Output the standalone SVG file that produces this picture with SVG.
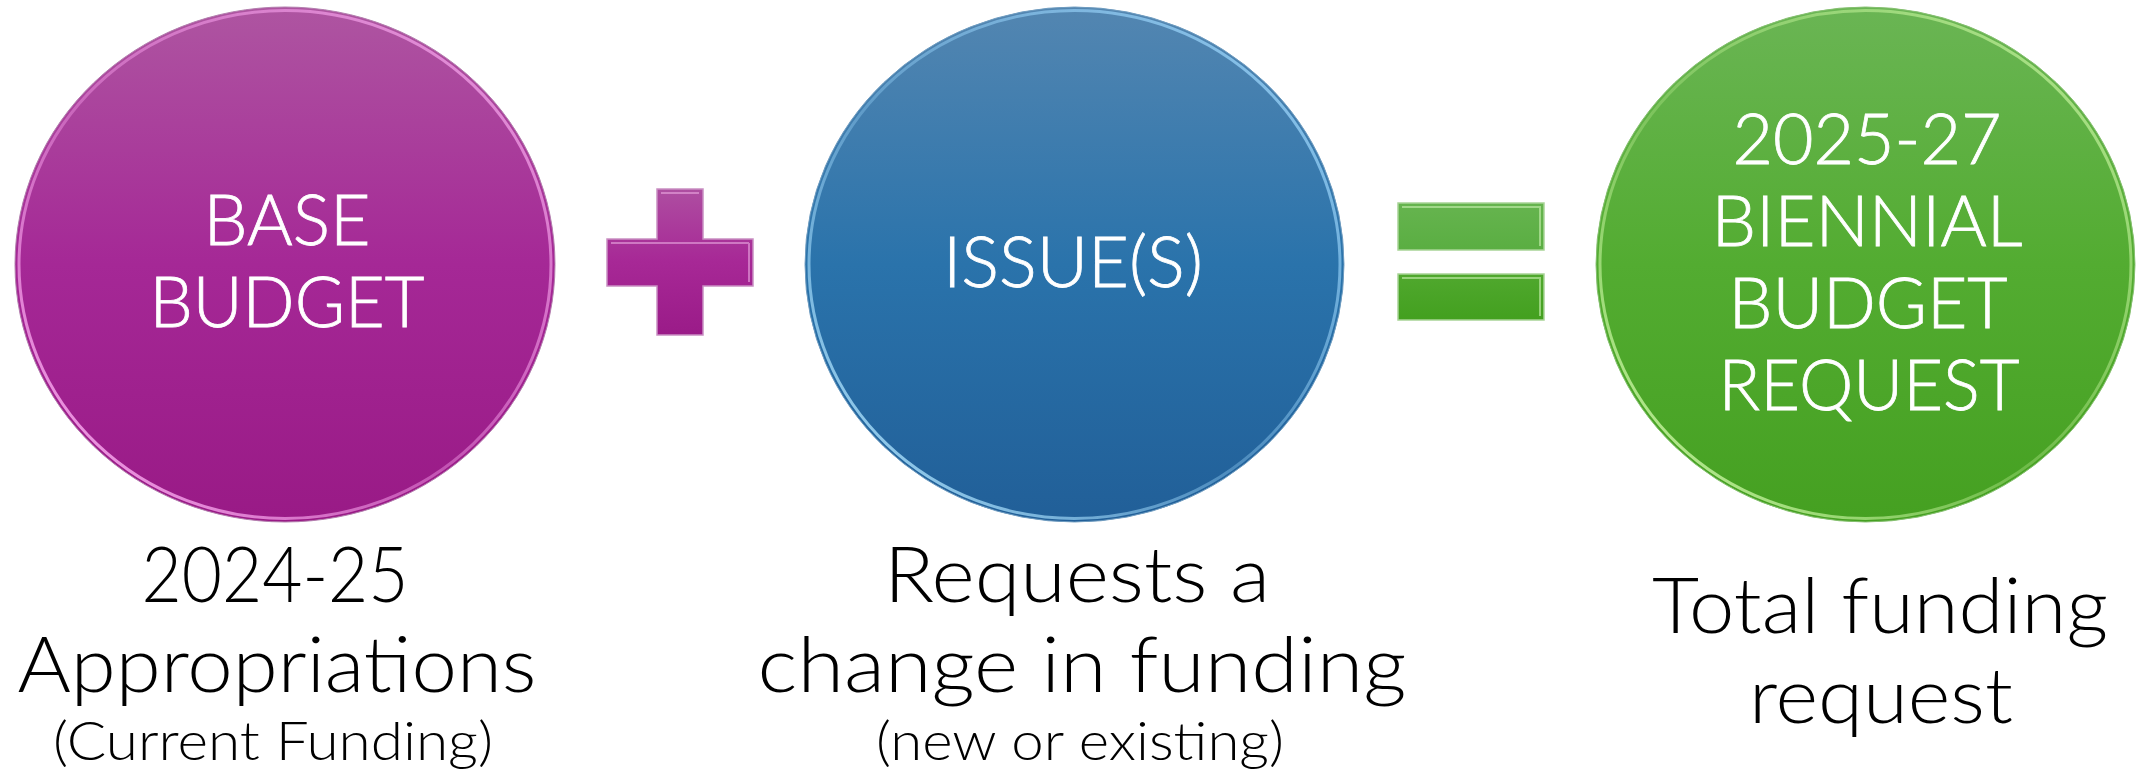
<svg xmlns="http://www.w3.org/2000/svg" width="2148" height="771" viewBox="0 0 2148 771">
  <style>
    .lbl { font-family: "Lato", "Open Sans", "Liberation Sans", sans-serif; font-weight: 300; fill: #ffffff; font-size: 71px; text-anchor: middle; stroke: #ffffff; stroke-width: 0.8px; }
    .cap { font-family: "Lato", "Open Sans", "Liberation Sans", sans-serif; font-weight: 300; fill: #000000; text-anchor: middle; }
    .big { font-size: 77px; }
    .small { font-size: 53px; }
  </style>
  <defs>
    <linearGradient id="gMag" x1="0" y1="0" x2="0" y2="1">
      <stop offset="0" stop-color="#AE55A1"/>
      <stop offset="0.5" stop-color="#A52896"/>
      <stop offset="1" stop-color="#991A86"/>
    </linearGradient>
    <linearGradient id="gBlue" x1="0" y1="0" x2="0" y2="1">
      <stop offset="0" stop-color="#5386B1"/>
      <stop offset="0.5" stop-color="#2A73AB"/>
      <stop offset="1" stop-color="#215F98"/>
    </linearGradient>
    <linearGradient id="gGreen" x1="0" y1="0" x2="0" y2="1">
      <stop offset="0" stop-color="#6AB554"/>
      <stop offset="0.5" stop-color="#53AC31"/>
      <stop offset="1" stop-color="#45A021"/>
    </linearGradient>
    <linearGradient id="rimMag" x1="0" y1="1" x2="1" y2="0">
      <stop offset="0" stop-color="#FFB4F5" stop-opacity="1"/>
      <stop offset="0.45" stop-color="#E98BDC" stop-opacity="0.5"/>
      <stop offset="1" stop-color="#F0A0E6" stop-opacity="0.9"/>
    </linearGradient>
    <linearGradient id="rimBlue" x1="0" y1="1" x2="1" y2="0">
      <stop offset="0" stop-color="#B4E8FF" stop-opacity="1"/>
      <stop offset="0.45" stop-color="#8CC8F0" stop-opacity="0.4"/>
      <stop offset="1" stop-color="#9AD4FA" stop-opacity="0.9"/>
    </linearGradient>
    <linearGradient id="rimGreen" x1="0" y1="1" x2="1" y2="0">
      <stop offset="0" stop-color="#D6FFB0" stop-opacity="1"/>
      <stop offset="0.45" stop-color="#A8E080" stop-opacity="0.4"/>
      <stop offset="1" stop-color="#C0F09A" stop-opacity="0.9"/>
    </linearGradient>
    <linearGradient id="gPlus" x1="0" y1="189" x2="0" y2="335" gradientUnits="userSpaceOnUse">
      <stop offset="0" stop-color="#AE4EA1"/>
      <stop offset="0.5" stop-color="#A72896"/>
      <stop offset="1" stop-color="#9A1B88"/>
    </linearGradient>
    <linearGradient id="gEq1" x1="0" y1="203" x2="0" y2="250" gradientUnits="userSpaceOnUse">
      <stop offset="0" stop-color="#66B44F"/>
      <stop offset="1" stop-color="#5AAE42"/>
    </linearGradient>
    <linearGradient id="gEq2" x1="0" y1="274" x2="0" y2="320" gradientUnits="userSpaceOnUse">
      <stop offset="0" stop-color="#50A82E"/>
      <stop offset="1" stop-color="#43A01F"/>
    </linearGradient>
  </defs>

  <g id="node-base-budget">
    <ellipse cx="285" cy="264.5" rx="270" ry="257.5" fill="url(#gMag)" stroke="#B37FAE" stroke-width="1"/>
    <ellipse cx="285" cy="264.5" rx="266" ry="254" fill="none" stroke="url(#rimMag)" stroke-width="3"/>
    <text class="lbl" x="287" y="245" textLength="167" lengthAdjust="spacingAndGlyphs">BASE</text>
    <text class="lbl" x="287" y="327" textLength="275" lengthAdjust="spacingAndGlyphs">BUDGET</text>
  </g>

  <g id="node-issues">
    <ellipse cx="1074.5" cy="264.5" rx="269.5" ry="257.5" fill="url(#gBlue)" stroke="#6F9CC0" stroke-width="1"/>
    <ellipse cx="1074.5" cy="264.5" rx="265.5" ry="254" fill="none" stroke="url(#rimBlue)" stroke-width="3"/>
    <text class="lbl" x="1073" y="287" textLength="260" lengthAdjust="spacingAndGlyphs">ISSUE(S)</text>
  </g>

  <g id="node-request">
    <ellipse cx="1865.5" cy="264.5" rx="269.5" ry="257.5" fill="url(#gGreen)" stroke="#86C070" stroke-width="1"/>
    <ellipse cx="1865.5" cy="264.5" rx="265.5" ry="254" fill="none" stroke="url(#rimGreen)" stroke-width="3"/>
    <text class="lbl" x="1867" y="164" textLength="269" lengthAdjust="spacingAndGlyphs">2025-27</text>
    <text class="lbl" x="1867" y="246" textLength="311" lengthAdjust="spacingAndGlyphs">BIENNIAL</text>
    <text class="lbl" x="1868" y="328" textLength="279" lengthAdjust="spacingAndGlyphs">BUDGET</text>
    <text class="lbl" x="1869" y="410" textLength="301" lengthAdjust="spacingAndGlyphs">REQUEST</text>
  </g>

  <g id="connectors">
    <g id="plus-sign">
      <path d="M657 189 H703 V239 H753 V286 H703 V335 H657 V286 H607 V239 H657 Z" fill="url(#gPlus)" stroke="#C98FC2" stroke-width="1.5"/>
      <path d="M661 193 H699 M611 243 H749 M749 243 V282" fill="none" stroke="#E9A6E0" stroke-width="2" opacity="0.6"/>
    </g>
    <g id="equals-sign">
      <rect x="1398" y="203" width="146" height="47" fill="url(#gEq1)" stroke="#A8D496" stroke-width="1.5"/>
      <rect x="1398" y="274" width="146" height="46" fill="url(#gEq2)" stroke="#A8D496" stroke-width="1.5"/>
      <path d="M1402 207 H1540 V246 M1402 278 H1540 V316" fill="none" stroke="#C9F0B0" stroke-width="2" opacity="0.6"/>
    </g>
  </g>

  <g id="caption-base">
    <text class="cap big" x="275" y="602" textLength="267" lengthAdjust="spacingAndGlyphs">2024-25</text>
    <text class="cap big" x="277" y="692" textLength="519" lengthAdjust="spacingAndGlyphs">Appropriations</text>
    <text class="cap small" x="273" y="760" textLength="440" lengthAdjust="spacingAndGlyphs">(Current Funding)</text>
  </g>

  <g id="caption-issues">
    <text class="cap big" x="1077" y="602" textLength="386" lengthAdjust="spacingAndGlyphs">Requests a</text>
    <text class="cap big" x="1082" y="692" textLength="649" lengthAdjust="spacingAndGlyphs">change in funding</text>
    <text class="cap small" x="1080" y="760" textLength="408" lengthAdjust="spacingAndGlyphs">(new or existing)</text>
  </g>

  <g id="caption-request">
    <text class="cap big" x="1880" y="633" textLength="456" lengthAdjust="spacingAndGlyphs">Total funding</text>
    <text class="cap big" x="1881" y="723" textLength="264" lengthAdjust="spacingAndGlyphs">request</text>
  </g>
</svg>
